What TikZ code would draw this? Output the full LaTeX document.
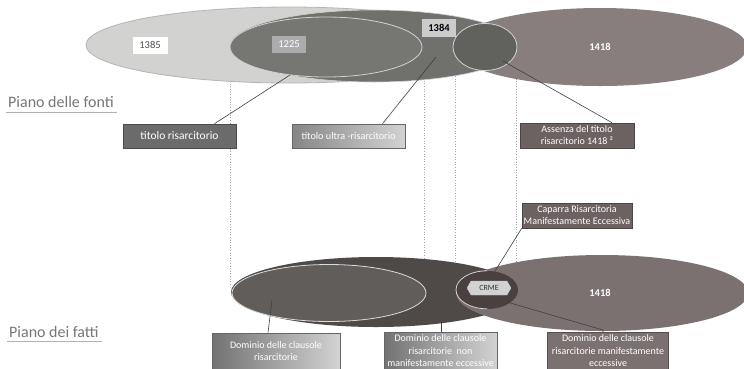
\documentclass[tikz,border=0pt]{standalone}
\usepackage{fontspec}
\setmainfont{Carlito}
\usetikzlibrary{shapes.geometric,shapes.symbols}
\definecolor{lightell}{HTML}{D2D2D0}
\definecolor{lightedge}{HTML}{B4B4B2}
\definecolor{darkell}{HTML}{70706C}
\definecolor{innerell}{HTML}{767672}
\definecolor{interell}{HTML}{61615D}
\definecolor{brownell}{HTML}{877E7D}
\definecolor{botdark}{HTML}{4F4947}
\definecolor{botinner}{HTML}{615D5B}
\definecolor{botbrown}{HTML}{7C7171}
\definecolor{botinter}{HTML}{4A4040}
\definecolor{boxdark}{HTML}{6B6B6B}
\definecolor{boxbrown}{HTML}{6C6262}
\definecolor{titlegray}{HTML}{777777}
\tikzset{
  ell/.style={ellipse, inner sep=0pt},
  lbl/.style={font=\fontsize{10}{12}\selectfont, text=white, align=center, inner sep=0pt},
  infobox/.style={draw=#1!70!black, line width=0.6pt, fill=#1, lbl, minimum height=24pt},
  gradbox/.style={draw=gray!80!black, line width=0.6pt, left color=#1, right color=gray!35, lbl, minimum height=24pt},
  conn/.style={draw=black!75, line width=0.6pt},
  guide/.style={draw=gray!70, dotted, line width=0.6pt},
  plane/.style={font=\fontsize{16}{18}\selectfont, text=titlegray, inner sep=0pt, anchor=base west},
}
\begin{document}
\begin{tikzpicture}[x=1pt,y=-1pt]
\useasboundingbox (0,0) rectangle (744,368);
\fill[white] (0,0) rectangle (744,368);

% dotted guide lines
\coordinate (g1a) at (230,55);  \coordinate (g1b) at (230,285);
\coordinate (g2a) at (424,60);  \coordinate (g2b) at (424,258);
\coordinate (g3a) at (455,63);  \coordinate (g3b) at (455,268);
\coordinate (g4a) at (516,50);  \coordinate (g4b) at (516,283);
\draw[guide] (g1a) -- (g1b);
\draw[guide] (g2a) -- (g2b);
\draw[guide] (g3a) -- (g3b);
\draw[guide] (g4a) -- (g4b);

% ---------- top plane ----------
\node[ell, fill=lightell, draw=lightedge, line width=0.8pt, minimum width=406pt, minimum height=76pt] (e1385) at (289,45) {};
\node[ell, fill=darkell, draw=lightedge!60, line width=0.6pt, minimum width=288pt, minimum height=72pt] (e1384) at (374,46) {};
\node[ell, fill=brownell, minimum width=294pt, minimum height=78pt] (e1418) at (600,47) {};
\node[ell, fill=interell, draw=lightell, line width=0.8pt, minimum width=64pt, minimum height=47pt] (einter) at (485,47) {};
\node[ell, fill=innerell, draw=lightell, line width=0.8pt, minimum width=192pt, minimum height=60pt] (e1225) at (326,47) {};

\node[fill=white, text=black!70, font=\fontsize{10.5}{12}\selectfont, minimum width=35pt, minimum height=17pt, inner sep=0pt] (t1385) at (150,45) {1385};
\node[fill=gray!65, text=white, font=\fontsize{10.5}{12}\selectfont, minimum width=34pt, minimum height=17pt, inner sep=0pt] (t1225) at (289,44.5) {1225};
\node[fill=gray!40, text=black, font=\bfseries\fontsize{10.5}{12}\selectfont, minimum width=34pt, minimum height=18pt, inner sep=0pt] (t1384) at (439,28) {1384};
\node[text=white, font=\bfseries\fontsize{10.5}{12}\selectfont, inner sep=0pt] (t1418) at (600,47) {1418};

% top boxes
\node[infobox=boxdark, minimum width=113pt, font=\fontsize{11.5}{13}\selectfont] (tr) at (179.5,136) {titolo risarcitorio};
\node[gradbox=gray!95, minimum width=113pt, font=\fontsize{10.2}{12}\selectfont] (tur) at (348.5,136) {titolo ultra -risarcitorio};
\node[infobox=boxbrown, minimum width=114pt, minimum height=25pt, font=\fontsize{10}{12}\selectfont] (ass) at (577,135.5) {Assenza del titolo\\risarcitorio 1418 ²};

\coordinate (c1) at (290,75);
\coordinate (c2) at (436,57);
\coordinate (c3) at (503,61);
\draw[conn] (c1) -- ([xshift=35pt]tr.north);
\draw[conn] (c2) -- ([xshift=34pt]tur.north);
\draw[conn] (c3) -- ([xshift=35pt]ass.north);

% ---------- bottom plane ----------
\node[ell, fill=botdark, minimum width=290pt, minimum height=70pt] (bdark) at (376,292) {};
\node[ell, fill=botbrown, minimum width=292pt, minimum height=76pt] (b1418) at (602,293) {};
\node[ell, fill=botinter, minimum width=62pt, minimum height=38pt] (binter) at (487,290) {};
\draw[draw=lightell, line width=0.8pt] (binter.north) arc[start angle=90, end angle=270, x radius=31pt, y radius=19pt];
\node[ell, fill=botinner, draw=lightell!80, line width=0.8pt, minimum width=194pt, minimum height=57pt] (binner) at (329,293) {};
\node[text=white, font=\bfseries\fontsize{10.5}{12}\selectfont, inner sep=0pt] (b1418t) at (600,293) {1418};
\node[signal, signal to=west and east, signal pointer angle=120, fill=gray!35, draw=gray!50, text=black!80, font=\fontsize{8}{9}\selectfont, minimum width=44pt, minimum height=14pt, inner sep=1pt] (crme) at (489,288) {CRME};

\node[infobox=boxbrown, minimum width=110pt, minimum height=25pt, font=\fontsize{10}{12}\selectfont] (cap) at (577,215.5) {Caparra Risarcitoria\\Manifestamente Eccessiva};
\draw[conn] (cap.south west) -- (crme.north);

\node[gradbox=gray!90!black, minimum width=128pt, minimum height=36pt, font=\fontsize{10}{12.5}\selectfont] (d1) at (276,351) {Dominio delle clausole\\risarcitorie};
\node[gradbox=gray!90!black, minimum width=113pt, minimum height=37pt, font=\fontsize{10}{12.5}\selectfont] (d2) at (440.5,351) {Dominio delle clausole\\risarcitorie\ \ non\\manifestamente eccessive};
\node[infobox=botbrown, minimum width=121pt, minimum height=37pt, font=\fontsize{10}{12.5}\selectfont] (d3) at (608,351) {Dominio delle clausole\\risarcitorie manifestamente\\eccessive};

\coordinate (c5) at (272,300);
\coordinate (c6) at (441,322);
\coordinate (c7) at (507,302);
\coordinate (c7b) at (603,330);
\draw[conn] (c5) -- ([xshift=-8pt]d1.north);
\draw[conn] (c6) -- ([xshift=0.5pt]d2.north);
\draw[conn] (c7) -- (c7b) -- ([xshift=-5pt]d3.north);

% ---------- plane titles ----------
\node[plane] (pf) at (8,107) {Piano delle fonti};
\draw[draw=gray!60, line width=0.8pt] ([xshift=-2pt,yshift=-5pt]pf.base west) -- ([xshift=3pt,yshift=-5pt]pf.base east);
\node[plane] (pd) at (9,337) {Piano dei fatti};
\draw[draw=gray!60, line width=0.8pt] ([xshift=-2pt,yshift=-4pt]pd.base west) -- ([xshift=3pt,yshift=-4pt]pd.base east);
\end{tikzpicture}
\end{document}
